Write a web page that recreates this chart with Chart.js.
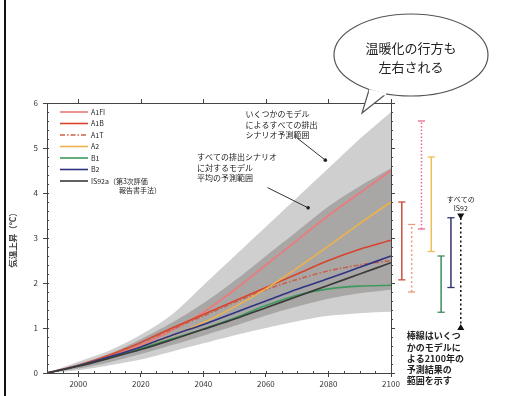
<!DOCTYPE html>
<html><head><meta charset="utf-8">
<script src="https://cdn.jsdelivr.net/npm/chart.js@4/dist/chart.umd.min.js"></script>
<style>
html,body{margin:0;padding:0;background:#fff;}
#wrap{position:relative;width:509px;height:396px;overflow:hidden;}
#frame{position:absolute;left:4px;top:0;width:2px;height:396px;background:#111;}
canvas{position:absolute;left:0;top:0;}
</style></head><body>
<div id="wrap"><canvas id="c" width="509" height="396"></canvas><div id="frame"></div></div>
<script>
// Years on the horizontal axis
const years = [1990, 2000, 2010, 2020, 2030, 2040, 2050, 2060, 2070, 2080, 2090, 2100];
const xTickYears = [2000, 2020, 2040, 2060, 2080, 2100];
const yTicks = [0, 1, 2, 3, 4, 5, 6];

// Envelope of all scenarios, several models (outer band)
const envAllHi = [0, 0.25, 0.5, 0.85, 1.3, 1.95, 2.6, 3.25, 3.9, 4.55, 5.2, 5.8];
const envAllLo = [0, 0.06, 0.17, 0.3, 0.48, 0.66, 0.84, 1.0, 1.15, 1.27, 1.33, 1.36];
// Envelope of the model-average for all scenarios (inner band)
const envMeanHi = [0, 0.2, 0.43, 0.75, 1.12, 1.55, 2.05, 2.6, 3.15, 3.7, 4.15, 4.55];
const envMeanLo = [0, 0.1, 0.24, 0.42, 0.62, 0.83, 1.05, 1.28, 1.48, 1.65, 1.77, 1.85];

// Scenario curves
const scenarioNames = ['A1FI', 'A1B', 'A1T', 'A2', 'B1', 'B2', ['IS92a（第3次評価', '　　　　報告書手法）']];
const a1fi = [0, 0.17, 0.38, 0.62, 0.95, 1.35, 1.85, 2.4, 2.95, 3.5, 4.0, 4.5];
const a1b  = [0, 0.17, 0.4, 0.68, 1.0, 1.3, 1.6, 1.9, 2.2, 2.5, 2.75, 2.95];
const a1t  = [0, 0.17, 0.4, 0.67, 0.97, 1.27, 1.57, 1.85, 2.08, 2.27, 2.4, 2.5];
const a2   = [0, 0.16, 0.35, 0.58, 0.83, 1.12, 1.47, 1.87, 2.33, 2.82, 3.32, 3.8];
const b1   = [0, 0.16, 0.35, 0.55, 0.76, 0.98, 1.22, 1.5, 1.73, 1.87, 1.93, 1.95];
const b2   = [0, 0.16, 0.36, 0.58, 0.84, 1.08, 1.34, 1.6, 1.86, 2.1, 2.35, 2.6];
const is92a = [0, 0.15, 0.33, 0.52, 0.74, 0.97, 1.2, 1.45, 1.7, 1.95, 2.2, 2.45];
const scenarioSeries = [a1fi, a1b, a1t, a2, b1, b2, is92a];
const scenarioColors = ['#ec7a7a', '#d9432c', '#c9604a', '#eeb24a', '#3c9a5c', '#2f3384', '#3a3a3a'];
const scenarioDash = [[], [], [5, 2, 1.5, 2], [], [], [], []];

// 2100 ranges from several models (right-hand panel)
const rangeNames = ['A1B', 'A1T', 'A1FI', 'A2', 'B1', 'B2', 'IS92'];
const rangeLow  = [2.07, 1.8, 3.2, 2.7, 1.35, 1.9, 1.0];
const rangeHigh = [3.8, 3.3, 5.6, 4.8, 2.6, 3.45, 3.5];
const rangeColors = ['#c8503e', '#ec9a7c', '#e86a88', '#eebd55', '#3f8a5e', '#343472', '#111111'];
const rangeDash = [[], [2, 2.5], [1.5, 2], [], [], [], [2, 2.5]];

const FONT = "'Noto Sans CJK JP', 'DejaVu Sans', sans-serif";
Chart.defaults.font.family = FONT;
Chart.defaults.color = '#333';

const xy = (arr) => years.map((yr, i) => ({x: yr, y: arr[i]}));

const datasets = [];
// outer band: upper edge fills down to the lower edge dataset
datasets.push({label: 'envAllHi', data: xy(envAllHi), borderWidth: 0, pointRadius: 0, tension: 0.3,
  backgroundColor: '#cfcfcf', fill: 1, order: 20});
datasets.push({label: 'envAllLo', data: xy(envAllLo), borderWidth: 0, pointRadius: 0, tension: 0.3,
  fill: false, order: 20});
datasets.push({label: 'envMeanHi', data: xy(envMeanHi), borderWidth: 0, pointRadius: 0, tension: 0.3,
  backgroundColor: '#a9a7a6', fill: 3, order: 19});
datasets.push({label: 'envMeanLo', data: xy(envMeanLo), borderWidth: 0, pointRadius: 0, tension: 0.3,
  fill: false, order: 19});
scenarioSeries.forEach((s, i) => {
  datasets.push({label: scenarioNames[i], data: xy(s), borderColor: scenarioColors[i],
    backgroundColor: scenarioColors[i], borderWidth: 1.6, borderDash: scenarioDash[i],
    pointRadius: 0, tension: 0.3, fill: false, order: 10 - i, isScenario: true});
});
rangeNames.forEach((n, i) => {
  const last = i === rangeNames.length - 1;
  datasets.push({label: n, xAxisID: 'xr', data: [{x: i, y: rangeLow[i]}, {x: i, y: rangeHigh[i]}],
    borderColor: rangeColors[i], borderWidth: 1.5, borderDash: rangeDash[i],
    pointStyle: last ? 'triangle' : 'line', rotation: last ? [0, 180] : 0,
    pointRadius: last ? 2.8 : 3.6, pointBorderWidth: 1.3,
    pointBorderColor: rangeColors[i], pointBackgroundColor: rangeColors[i], order: 1});
});

// Extra drawing: frame, minor ticks, key, callouts, speech bubble and panel notes
const decor = {
  id: 'decor',
  afterDraw(chart) {
    const ctx = chart.ctx;
    const x = chart.scales.x, y = chart.scales.y, xr = chart.scales.xr;
    const top = chart.chartArea.top, bottom = chart.chartArea.bottom;
    ctx.save();
    ctx.strokeStyle = '#444';
    ctx.lineWidth = 1;
    // top frame with outward ticks
    ctx.beginPath();
    ctx.moveTo(x.left, top + 0.5); ctx.lineTo(x.right, top + 0.5);
    xTickYears.forEach(v => { const px = Math.round(x.getPixelForValue(v)) + 0.5; ctx.moveTo(px, top); ctx.lineTo(px, top - 4); });
    ctx.stroke();
    // minor ticks along left axis and the panel divider
    ctx.beginPath();
    for (let v = 0; v <= 6.001; v += 0.2) {
      const py = Math.round(y.getPixelForValue(v)) + 0.5;
      const major = Math.abs(v - Math.round(v)) < 0.01;
      ctx.moveTo(x.left, py); ctx.lineTo(x.left + 2, py);
      ctx.moveTo(x.right, py); ctx.lineTo(x.right + (major ? 4 : 2), py);
    }
    for (let v = 1990; v <= 2100; v += 5) {
      const px = Math.round(x.getPixelForValue(v)) + 0.5;
      ctx.moveTo(px, bottom); ctx.lineTo(px, bottom - 2);
    }
    ctx.stroke();

    // key for the scenario curves, styled from the datasets themselves
    const keyX = x.left + 13, keyY = top + 9;
    let row = 0;
    chart.data.datasets.forEach(ds => {
      if (!ds.isScenario) return;
      const py = keyY + row * 11.5;
      ctx.beginPath();
      ctx.setLineDash(ds.borderDash || []);
      ctx.strokeStyle = ds.borderColor; ctx.lineWidth = ds.borderWidth;
      ctx.moveTo(keyX, py); ctx.lineTo(keyX + 28, py); ctx.stroke();
      ctx.setLineDash([]);
      ctx.fillStyle = '#222'; ctx.font = '7px ' + FONT;
      ctx.textAlign = 'left'; ctx.textBaseline = 'middle';
      const lines = Array.isArray(ds.label) ? ds.label : [ds.label];
      lines.forEach((t, k) => ctx.fillText(t, keyX + 31, py + k * 9));
      row++;
    });
    ctx.lineWidth = 1;

    // callouts
    ctx.fillStyle = '#222';
    ctx.textBaseline = 'middle';
    ctx.textAlign = 'left';
    ctx.font = '8px ' + FONT;
    const note1 = ['いくつかのモデル', 'によるすべての排出', 'シナリオ予測範囲'];
    const note2 = ['すべての排出シナリオ', 'に対するモデル', '平均の予測範囲'];
    const n1x = x.getPixelForValue(2053.5), n1y = y.getPixelForValue(5.75);
    note1.forEach((t, i) => ctx.fillText(t, n1x, n1y + i * 10.5));
    const n2x = x.getPixelForValue(2038), n2y = y.getPixelForValue(4.8);
    note2.forEach((t, i) => ctx.fillText(t, n2x, n2y + i * 10.5));
    const arrow = (x0, y0, x1, y1) => {
      const ax = x.getPixelForValue(x0), ay = y.getPixelForValue(y0);
      const bx = x.getPixelForValue(x1), by = y.getPixelForValue(y1);
      ctx.beginPath(); ctx.moveTo(ax, ay); ctx.lineTo(bx, by); ctx.strokeStyle = '#333'; ctx.stroke();
      ctx.beginPath(); ctx.arc(bx, by, 1.8, 0, Math.PI * 2); ctx.fill();
    };
    arrow(2070, 5.22, 2079, 4.73);
    arrow(2060.5, 4.12, 2073.5, 3.67);

    // panel notes
    const isx = xr.getPixelForValue(6);
    ctx.textAlign = 'center';
    ctx.font = '7px ' + FONT;
    ctx.fillText('すべての', isx, y.getPixelForValue(3.85));
    ctx.fillText('IS92', isx, y.getPixelForValue(3.65));
    ctx.textAlign = 'left';
    ctx.font = 'bold 9px ' + FONT;
    const note3 = ['棒線はいくつ', 'かのモデルに', 'よる2100年の', '予測結果の', '範囲を示す'];
    const n3x = xr.getPixelForValue(0.5);
    note3.forEach((t, i) => ctx.fillText(t, n3x, 336 + i * 11.2));

    // speech bubble
    const cx = 411, cy = 55, rx = 77, ry = 41;
    ctx.strokeStyle = '#555'; ctx.lineWidth = 1.2; ctx.fillStyle = '#fff';
    ctx.beginPath(); ctx.ellipse(cx, cy, rx, ry, 0, 0, Math.PI * 2); ctx.fill(); ctx.stroke();
    ctx.beginPath(); ctx.moveTo(369, 90); ctx.lineTo(362, 113); ctx.lineTo(386, 94);
    ctx.fill(); ctx.stroke();
    ctx.beginPath(); ctx.moveTo(369, 90.5); ctx.lineTo(386, 94.5); ctx.strokeStyle = '#fff'; ctx.lineWidth = 2.5; ctx.stroke();
    ctx.fillStyle = '#222'; ctx.textAlign = 'center';
    ctx.font = '13px ' + FONT;
    ctx.fillText('温暖化の行方も', cx, 48);
    ctx.fillText('左右される', cx, 67);
    ctx.restore();
  }
};

new Chart(document.getElementById('c'), {
  type: 'line',
  data: {datasets},
  plugins: [decor],
  options: {
    responsive: false,
    animation: false,
    layout: {padding: {left: 8, top: 103, right: 4, bottom: 0}, autoPadding: false},
    plugins: {
      tooltip: {enabled: false},
      legend: {display: false}
    },
    scales: {
      x: {
        type: 'linear', min: 1990, max: 2100, position: 'bottom',
        stack: 'row', stackWeight: 344,
        afterBuildTicks: (s) => { s.ticks = xTickYears.map(v => ({value: v})); },
        afterFit: (s) => { s.height = 23; s.paddingLeft = 0; s.paddingRight = 0; },
        ticks: {font: {size: 8}, color: '#333', padding: 2, maxRotation: 0, callback: v => String(v)},
        grid: {color: c => (c.tick && c.tick.value === 2100 ? '#444' : 'rgba(0,0,0,0)'),
               tickColor: '#444', tickLength: 4, lineWidth: 1},
        border: {color: '#444', width: 1}
      },
      xr: {
        type: 'linear', min: -1.1, max: 10.5, position: 'bottom',
        stack: 'row', stackWeight: 114,
        afterFit: (s) => { s.height = 23; s.paddingLeft = 0; s.paddingRight = 0; },
        ticks: {display: false}, grid: {display: false}, border: {display: false}
      },
      y: {
        type: 'linear', min: 0, max: 6, position: 'left',
        afterBuildTicks: (s) => { s.ticks = yTicks.map(v => ({value: v})); },
        afterFit: (s) => { s.width = 39; s.paddingTop = 0; s.paddingBottom = 0; },
        ticks: {font: {size: 8}, color: '#333', padding: 5},
        grid: {drawOnChartArea: false, tickColor: '#444', tickLength: 4},
        border: {color: '#444', width: 1},
        title: {display: true, text: '気温上昇（℃）', font: {size: 8.5, weight: 'bold'}, color: '#444', padding: {top: 0, bottom: 0}}
      }
    }
  }
});
</script>
</body></html>
